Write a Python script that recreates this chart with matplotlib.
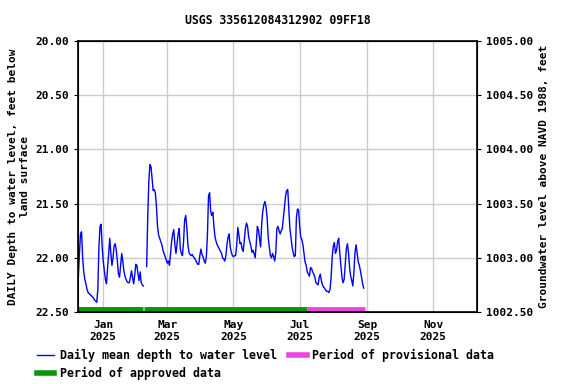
import numpy as np
import pandas as pd
import matplotlib
matplotlib.use("Agg")
import matplotlib.pyplot as plt
from matplotlib.lines import Line2D

plt.rcParams['font.family'] = ['DejaVu Sans Mono']
plt.rcParams['font.weight'] = 'bold'
plt.rcParams['axes.titleweight'] = 'bold'
plt.rcParams['axes.labelweight'] = 'bold'

base = pd.Timestamp("2025-01-01")

# daily mean depth, days counted from 2025-01-01
days_1 = [-23, -22, -21, -20, -19, -18, -17, -16, -15, -14, -12, -11, -9, -8, -7, -6, -5, -4, -3, -2,
          -1, 0, 1, 2, 3, 4, 5, 6, 7, 8, 9, 10, 11, 12, 13, 14, 15, 16, 17, 18,
          19, 20, 21, 22, 23, 24, 25, 26, 27, 28, 29, 30, 31, 32, 33, 34, 35, 36, 37]
depth_1 = [22.18, 21.97, 21.78, 21.76, 22.00, 22.13, 22.20, 22.24, 22.29, 22.32, 22.34, 22.35, 22.37, 22.39, 22.40, 22.41, 22.29, 21.90, 21.71, 21.69,
           21.90, 22.03, 22.12, 22.20, 22.24, 22.09, 21.96, 21.82, 21.96, 22.07, 22.00, 21.89, 21.87, 21.93, 22.03, 22.15, 22.18, 22.07, 21.96, 22.03,
           22.12, 22.17, 22.20, 22.22, 22.23, 22.23, 22.18, 22.12, 22.18, 22.24, 22.16, 22.06, 22.07, 22.15, 22.21, 22.13, 22.23, 22.25, 22.26]

days_2 = list(range(40, 241))
depth_2 = [22.08, 21.62, 21.29, 21.14, 21.16, 21.27, 21.38, 21.37, 21.40, 21.52,
           21.71, 21.79, 21.82, 21.85, 21.88, 21.93, 21.96, 21.99, 22.02, 22.05,
           22.03, 22.07, 21.96, 21.85, 21.78, 21.74, 21.88, 21.96, 21.87, 21.78,
           21.73, 21.92, 21.96, 21.98, 21.85, 21.65, 21.61, 21.72, 21.88, 21.95,
           21.97, 21.98, 21.97, 21.99, 22.00, 22.02, 22.04, 22.06, 22.06, 21.98,
           21.92, 21.97, 21.99, 22.03, 22.05, 21.99, 21.79, 21.43, 21.40, 21.57,
           21.61, 21.58, 21.71, 21.81, 21.85, 21.88, 21.90, 21.92, 21.94, 21.96,
           22.00, 22.01, 22.03, 21.98, 21.88, 21.81, 21.78, 21.90, 21.95, 21.98,
           21.99, 21.98, 21.98, 21.88, 21.72, 21.79, 21.87, 21.86, 21.92, 21.94,
           21.84, 21.73, 21.68, 21.71, 21.81, 21.85, 21.89, 21.95, 21.93, 21.96,
           22.00, 21.87, 21.71, 21.74, 21.82, 21.90, 21.69, 21.57, 21.51, 21.48,
           21.53, 21.63, 21.81, 21.90, 21.98, 22.00, 21.96, 21.99, 22.03, 21.95,
           21.73, 21.71, 21.75, 21.78, 21.75, 21.73, 21.63, 21.53, 21.43, 21.38,
           21.37, 21.55, 21.73, 21.81, 21.90, 21.95, 21.99, 21.98, 21.63, 21.55,
           21.56, 21.71, 21.81, 21.83, 21.88, 21.96, 22.04, 22.07, 22.13, 22.15,
           22.17, 22.09, 22.10, 22.13, 22.15, 22.18, 22.23, 22.24, 22.25, 22.18,
           22.15, 22.21, 22.25, 22.27, 22.28, 22.30, 22.31, 22.31, 22.32, 22.29,
           22.18, 21.99, 21.89, 21.86, 21.96, 21.93, 21.85, 21.82, 21.96, 22.07,
           22.18, 22.23, 22.20, 22.06, 21.92, 21.87, 21.95, 22.09, 22.17, 22.21,
           22.26, 22.13, 21.95, 21.88, 21.96, 22.04, 22.07, 22.12, 22.18, 22.24,
           22.28]

approved_start = ["2024-12-09", "2025-02-08"]
approved_end = ["2025-02-07", "2025-07-08"]
provisional_start = ["2025-07-08"]
provisional_end = ["2025-08-30"]

tick_dates = ["2025-01-01", "2025-03-01", "2025-05-01", "2025-07-01", "2025-09-01", "2025-11-01"]
tick_labels = ["Jan\n2025", "Mar\n2025", "May\n2025", "Jul\n2025", "Sep\n2025", "Nov\n2025"]

blue = "#0000ff"
green = "#009900"
pink = "#ee44dd"

fig = plt.figure(figsize=(5.76, 3.84), dpi=100)
ax = fig.add_axes([0.1354, 0.1875, 0.6927, 0.7057])

t1 = base + pd.to_timedelta(days_1, unit="D")
t2 = base + pd.to_timedelta(days_2, unit="D")
ax.plot(t1, depth_1, color=blue, lw=1)
ax.plot(t2, depth_2, color=blue, lw=1)

for s, e in zip(approved_start, approved_end):
    ax.plot([pd.Timestamp(s), pd.Timestamp(e)], [22.475, 22.475], color=green, lw=3.5, solid_capstyle='butt')
for s, e in zip(provisional_start, provisional_end):
    ax.plot([pd.Timestamp(s), pd.Timestamp(e)], [22.475, 22.475], color=pink, lw=3.5, solid_capstyle='butt')

ax.set_xlim(pd.Timestamp("2024-12-08 17:00"), pd.Timestamp("2025-12-11 10:00"))
ax.set_ylim(22.5, 20.0)
ax.set_yticks(np.arange(20.0, 22.51, 0.5))
ax.yaxis.set_major_formatter(matplotlib.ticker.FormatStrFormatter('%.2f'))
ax.set_xticks([pd.Timestamp(d) for d in tick_dates])
ax.set_xticklabels(tick_labels, fontweight='bold')
ax.grid(True, color="#cccccc", lw=1)
ax.set_axisbelow(True)
ax.tick_params(axis='x', length=0, labelsize=8, pad=6)
ax.tick_params(axis='y', length=3, labelsize=8)
for lab in ax.get_yticklabels():
    lab.set_fontweight('bold')
for sp in ax.spines.values():
    sp.set_linewidth(1.2)

ax.set_ylabel("DAILY Depth to water level, feet below\nland surface", fontsize=8, linespacing=1.15)

ax2 = ax.twinx()
ax2.set_ylim(1002.5, 1005.0)
ax2.set_yticks(np.arange(1002.5, 1005.01, 0.5))
ax2.yaxis.set_major_formatter(matplotlib.ticker.FormatStrFormatter('%.2f'))
ax2.tick_params(axis='y', length=3, labelsize=8)
for lab in ax2.get_yticklabels():
    lab.set_fontweight('bold')
ax2.set_ylabel("Groundwater level above NAVD 1988, feet", fontsize=8)

ax.set_title("USGS 335612084312902 09FF18", fontsize=8.3, pad=12)

handles = [Line2D([], [], color=blue, lw=1),
           Line2D([], [], color=green, lw=4),
           Line2D([], [], color=pink, lw=4)]
labels = ["Daily mean depth to water level", "Period of approved data", "Period of provisional data"]
fig.legend(handles, labels, loc='upper left', bbox_to_anchor=(0.064, 0.092), ncol=2,
           frameon=False, handlelength=1.5, handletextpad=0.45,
           columnspacing=1.1, labelspacing=0.45, borderaxespad=0, borderpad=0,
           prop={'weight': 'bold', 'size': 8.4})

fig.savefig("out.png", dpi=100)
